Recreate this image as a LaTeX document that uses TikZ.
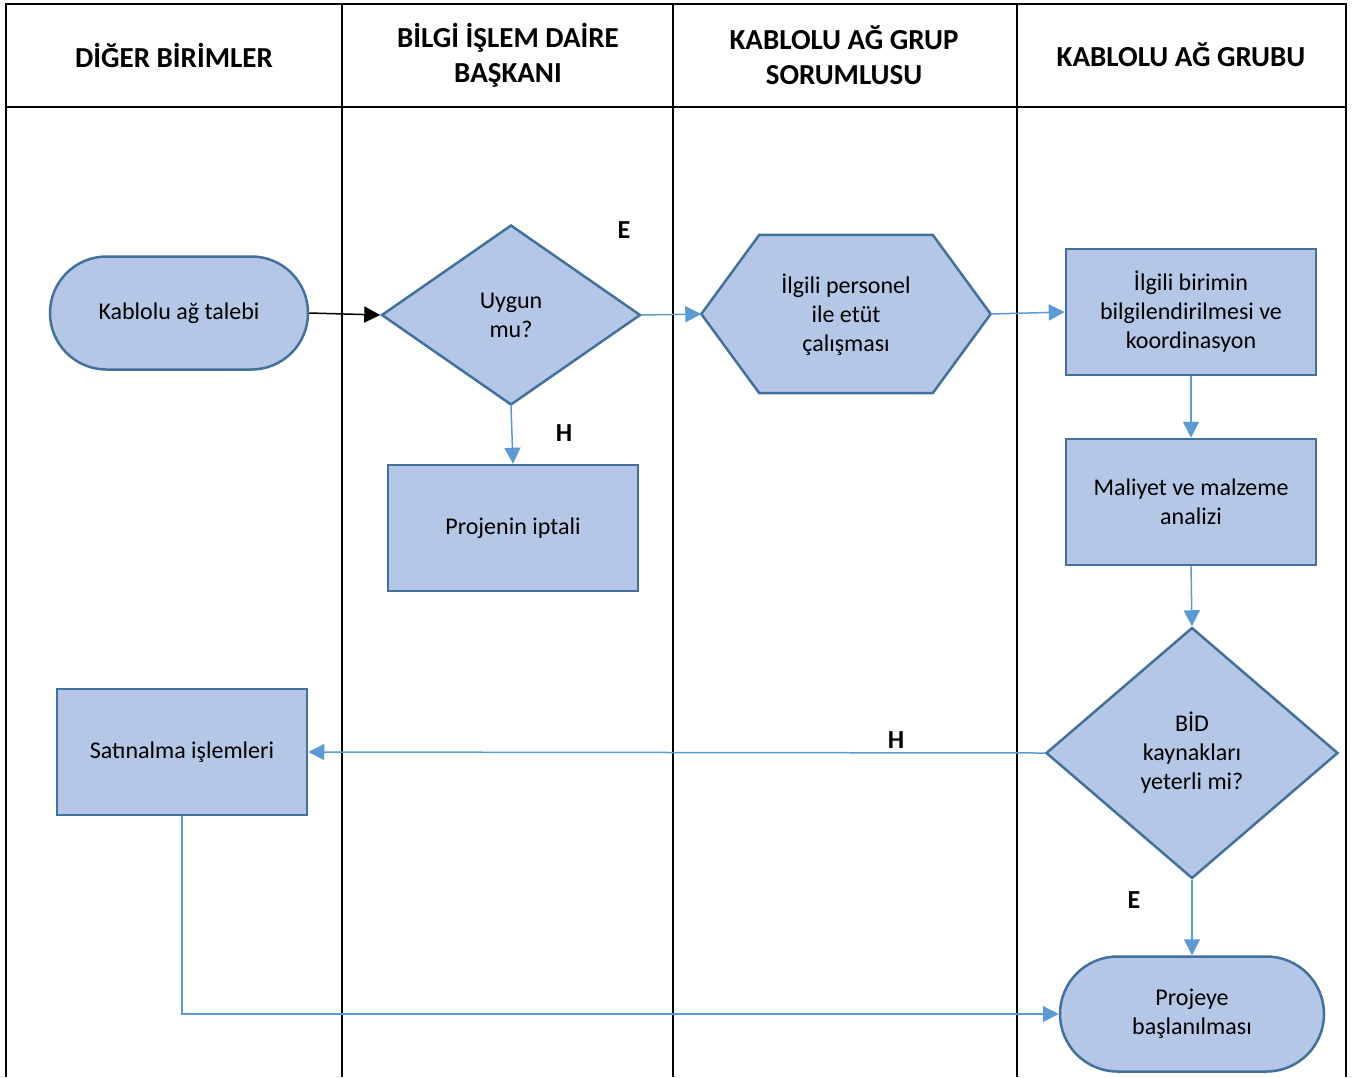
\documentclass[tikz,border=0pt]{standalone}
\usepackage{fontspec}
\setmainfont{Carlito}
\usetikzlibrary{arrows.meta,shapes.geometric,shapes.misc,positioning,calc}
\definecolor{boxfill}{HTML}{B4C7E7}
\definecolor{boxline}{HTML}{41719C}
\definecolor{flowline}{HTML}{5B9BD5}

\begin{document}
\begin{tikzpicture}[x=1pt,y=-1pt,
  every node/.style={inner sep=0pt,font=\fontsize{24}{29}\selectfont,align=center},
  tableline/.style={black,line width=2.5pt},
  header/.style={font=\fontsize{29}{35}\selectfont\bfseries},
  answer/.style={font=\fontsize{26}{30}\selectfont\bfseries},
  shapeline/.style={draw=boxline,fill=boxfill,line width=2.5pt},
  taskbox/.style={shapeline,rectangle,minimum width=250pt,minimum height=126pt},
  terminal/.style={shapeline,rounded rectangle,minimum height=113pt},
  decision/.style={shapeline,diamond},
  flow/.style={flowline,line width=1.5pt,-{Triangle[length=16pt,width=16pt]}},
  blackflow/.style={black,line width=1.5pt,-{Triangle[length=16pt,width=16pt]}}]
\useasboundingbox (0,0) rectangle (1357,1077);
% swimlanes
\draw [tableline] (6,1077) -- (6,4) -- (1346,4) -- (1346,1077);
\draw [tableline] (6,107) -- (1346,107);
\foreach \lx in {342,673,1017}
  \draw [tableline] (\lx,4) -- (\lx,1077);
\node [header] (hdOther) at (174,55) {DİĞER BİRİMLER};
\node [header] (hdHead) at (508,55) {BİLGİ İŞLEM DAİRE\\BAŞKANI};
\node [header] (hdLead) at (844,55) {KABLOLU AĞ GRUP\\SORUMLUSU};
\node [header] (hdGroup) at (1181,55) {KABLOLU AĞ GRUBU};
% shapes
\node [terminal,minimum width=258pt] (request) at (179,313) {Kablolu ağ talebi};
\node [decision,minimum width=259pt,minimum height=180pt] (suitable) at (511,315) {Uygun\\mu?};
\node [taskbox] (cancel) at (513,528) {Projenin iptali};
\node [minimum width=289pt,minimum height=158pt] (survey) at (846,314) {};
\filldraw [shapeline] (survey.west) -- ([xshift=58pt]survey.north west) -- ([xshift=-58pt]survey.north east)
  -- (survey.east) -- ([xshift=-58pt]survey.south east) -- ([xshift=58pt]survey.south west) -- cycle;
\node (surveytext) at ([yshift=-1pt]survey) {İlgili personel\\ile etüt\\çalışması};
\node [taskbox] (inform) at (1191,312) {İlgili birimin\\bilgilendirilmesi ve\\koordinasyon};
\node [taskbox] (cost) at (1191,502) {Maliyet ve malzeme\\analizi};
\node [decision,minimum width=292pt,minimum height=251pt] (enough) at (1192,753) {BİD\\kaynakları\\yeterli mi?};
\node [taskbox] (purchase) at (182,752) {Satınalma işlemleri};
\node [terminal,minimum width=264pt,minimum height=115pt] (start) at (1192,1014) {Projeye\\başlanılması};
% connectors
\draw [blackflow] (request.east) -- (suitable.west);
\draw [flow] (suitable.east) -- (survey.west);
\draw [flow] (survey.east) -- (inform.west);
\draw [flow] (suitable.south) -- (cancel.north);
\draw [flow] (inform.south) -- (cost.north);
\draw [flow] (cost.south) -- (enough.north);
\draw [flow] (enough.west) -- (purchase.east);
\draw [flow] (enough.south) -- (start.north);
\draw [flow] (purchase.south) |- (start.west);
% answers
\node [answer] (yesA) at (624,230) {E};
\node [answer] (noA) at (564,433) {H};
\node [answer] (noB) at (896,740) {H};
\node [answer] (yesB) at (1134,900) {E};
\end{tikzpicture}
\end{document}
